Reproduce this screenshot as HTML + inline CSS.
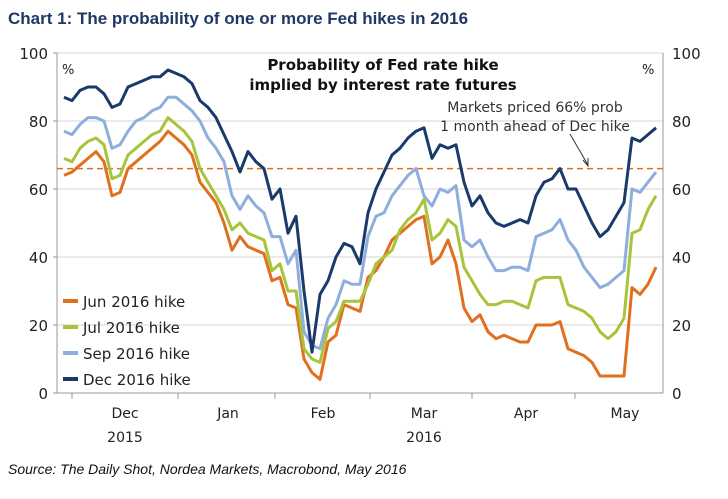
<!DOCTYPE html>
<html><head><meta charset="utf-8"><style>
body{margin:0;background:#fff;}
svg text{font-family:"DejaVu Sans","Liberation Sans",sans-serif;}
svg text.lib{font-family:"Liberation Sans","DejaVu Sans",sans-serif;}
</style></head><body>
<svg width="728" height="494" viewBox="0 0 728 494">
<text class="lib" x="8" y="24" font-size="17" font-weight="bold" fill="#1f3864">Chart 1:  The probability of one or more Fed hikes in 2016</text>
<g id="grid"></g>
<line x1="57" y1="53" x2="57" y2="393" stroke="#999"/>
<line x1="663" y1="53" x2="663" y2="393" stroke="#999"/>
<line x1="57" y1="393" x2="663" y2="393" stroke="#999"/>
<g id="yl"></g>
<g id="xl"></g>
<text x="62" y="74" font-size="13" fill="#222">%</text>
<text x="642" y="74" font-size="13" fill="#222">%</text>
<text x="383" y="70" font-size="15" font-weight="bold" text-anchor="middle" fill="#111">Probability of Fed rate hike</text>
<text x="383" y="90" font-size="15" font-weight="bold" text-anchor="middle" fill="#111">implied by interest rate futures</text>
<line id="ref" x1="57" x2="663" stroke="#e0701f" stroke-width="1.5" stroke-dasharray="6,4"/>
<g id="series"></g>
<text x="535" y="112" font-size="14" text-anchor="middle" fill="#333">Markets priced 66% prob</text>
<text x="535" y="131" font-size="14" text-anchor="middle" fill="#333">1 month ahead of Dec hike</text>
<line x1="570" y1="134" x2="588" y2="165" stroke="#333" stroke-width="1"/>
<path d="M583 160 L588 166 L588 158" fill="none" stroke="#333"/>
<g id="legend"></g>
<text class="lib" x="8" y="474" font-size="14" font-style="italic" fill="#111">Source: The Daily Shot, Nordea Markets, Macrobond, May 2016</text>
</svg>
<script>
const yTicks=[0,20,40,60,80,100];
const months=["Dec","Jan","Feb","Mar","Apr","May"];
const monthPos=[125,228,323,424,526,625];
const years=[["2015",125],["2016",424]];
const tickPos=[72,178,275,370,472,575];
const refValue=66;
const seriesNames=["Jun 2016 hike","Jul 2016 hike","Sep 2016 hike","Dec 2016 hike"];
const seriesColors=["#e0701f","#a8c43a","#8eaedb","#1a3a6c"];
const jun=[64,65,67,69,71,68,58,59,66,68,70,72,74,77,75,73,70,62,59,56,50,42,46,43,42,41,33,34,26,25,10,6,4,15,17,26,25,24,34,36,40,45,47,49,51,52,38,40,45,38,25,21,23,18,16,17,16,15,15,20,20,20,21,13,12,11,9,5,5,5,5,31,29,32,37];
const jul=[69,68,72,74,75,73,63,64,70,72,74,76,77,81,79,77,74,66,62,58,54,48,50,47,46,45,36,38,30,30,13,10,9,19,21,27,27,27,32,38,40,42,48,51,53,57,45,47,51,49,37,33,29,26,26,27,27,26,25,33,34,34,34,26,25,24,22,18,16,18,22,47,48,54,58];
const sep=[77,76,79,81,81,80,72,73,77,80,81,83,84,87,87,85,83,80,75,72,68,58,54,58,55,53,46,46,38,42,18,14,13,22,26,33,32,32,46,52,53,58,61,64,66,58,55,60,59,61,45,43,45,40,36,36,37,37,36,46,47,48,51,45,42,37,34,31,32,34,36,60,59,62,65];
const dec=[87,86,89,90,90,88,84,85,90,91,92,93,93,95,94,93,91,86,84,81,76,71,65,71,68,66,57,60,47,52,30,12,29,33,40,44,43,38,53,60,65,70,72,75,77,78,69,73,72,73,62,55,58,53,50,49,50,51,50,58,62,63,66,60,60,55,50,46,48,52,56,75,74,76,78];
const allSeries=[jun,jul,sep,dec];
const NS="http://www.w3.org/2000/svg";
const x0=64,x1=656,yBase=393,yTop=53;
function yS(v){return yBase-(v/100)*(yBase-yTop);}
function xS(i,n){return x0+i*(x1-x0)/(n-1);}
function mk(tag,attrs,parent,txt){const e=document.createElementNS(NS,tag);for(const k in attrs)e.setAttribute(k,attrs[k]);if(txt!==undefined)e.textContent=txt;parent.appendChild(e);return e;}
const grid=document.getElementById('grid'),yl=document.getElementById('yl'),xl=document.getElementById('xl');
yTicks.forEach(t=>{
  if(t>0){const g=mk('line',{x1:57,x2:663,y1:yS(t),y2:yS(t),stroke:"#e3e3e3","stroke-width":1.5},grid);
  
  }
  const a=mk('text',{x:48,y:yS(t)+6,"font-size":15,"text-anchor":"end",fill:"#222"},yl,String(t));
  
  
  const b=mk('text',{x:672,y:yS(t)+6,"font-size":15,fill:"#222"},yl,String(t));
  
  
  const tk=mk('line',{x1:53,x2:57,y1:yS(t),y2:yS(t),stroke:"#999"},yl);
  
  
});
tickPos.forEach((p,i)=>{
  const t=mk('line',{x1:p,x2:p,y1:393,y2:399,stroke:"#999"},xl);
  
  
});
months.forEach((m,i)=>{
  const t=mk('text',{x:monthPos[i],y:418,"font-size":14,"text-anchor":"middle",fill:"#222"},xl,m);
  
  
});
years.forEach(y=>{
  const t=mk('text',{x:y[1],y:442,"font-size":14,"text-anchor":"middle",fill:"#222"},xl,y[0]);
  
  
});
const ref=document.getElementById('ref');ref.setAttribute('y1',yS(refValue));ref.setAttribute('y2',yS(refValue));
const sg=document.getElementById('series');
allSeries.forEach((s,k)=>{
  const d=s.map((v,i)=>(i?'L':'M')+xS(i,s.length).toFixed(1)+' '+yS(v).toFixed(1)).join(' ');
  const p=mk('path',{d:d,fill:"none",stroke:seriesColors[k],"stroke-width":3,"stroke-linejoin":"round"},sg);
  
  
});
const lg=document.getElementById('legend');
seriesNames.forEach((n,k)=>{
  const y=301+k*26;
  const l=mk('line',{x1:63,x2:78,y1:y,y2:y,stroke:seriesColors[k],"stroke-width":4},lg);
  
  
  const t=mk('text',{x:83,y:y+6,"font-size":15,fill:"#222"},lg,n);
  
  
});
</script>
</body></html>
